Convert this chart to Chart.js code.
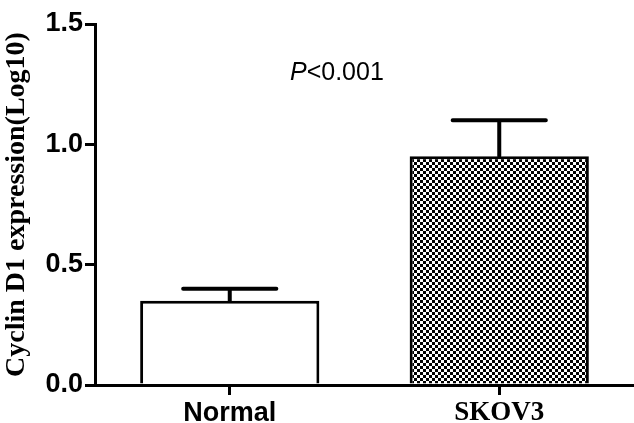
<!DOCTYPE html>
<html>
<head>
<meta charset="utf-8">
<script src="https://cdn.jsdelivr.net/npm/chart.js@4"></script>
<style>
  html, body { margin: 0; padding: 0; background: #fff; }
  #wrap { width: 634px; height: 423px; }
</style>
</head>
<body>
<div id="wrap"><canvas id="grafico"></canvas></div>
<script>
// dados
var grupos = ['Normal', 'SKOV3'];
var medias = [0.35, 0.95];
var erros = [0.05, 0.15];
var ticksY = [0, 0.5, 1.0, 1.5];

function padraoXadrez() {
    var c = document.createElement('canvas');
    c.width = 6;
    c.height = 6;
    var g = c.getContext('2d');
    g.fillStyle = '#fff';
    g.fillRect(0, 0, 6, 6);
    g.fillStyle = '#000';
    g.fillRect(0, 0, 3, 3);
    g.fillRect(3, 3, 3, 3);
    return g.createPattern(c, 'repeat');
}

var barrasErro = {
    id: 'barrasErro',
    afterDatasetsDraw: function (chart) {
        var ctx = chart.ctx;
        var meta = chart.getDatasetMeta(0);
        var y = chart.scales.y;
        ctx.save();
        ctx.strokeStyle = '#000';
        ctx.lineWidth = 4;
        ctx.lineCap = 'round';
        meta.data.forEach(function (bar, i) {
            var topo = y.getPixelForValue(medias[i] + erros[i]);
            var meia = bar.width * 0.26;
            ctx.beginPath();
            ctx.moveTo(bar.x, bar.y);
            ctx.lineTo(bar.x, topo);
            ctx.moveTo(bar.x - meia, topo);
            ctx.lineTo(bar.x + meia, topo);
            ctx.stroke();
        });
        // texto do valor P
        ctx.fillStyle = '#000';
        ctx.textBaseline = 'alphabetic';
        ctx.font = 'italic 25px "Liberation Sans", Arial, sans-serif';
        var wP = ctx.measureText('P').width;
        var x0 = 290;
        ctx.fillText('P', x0, 80);
        ctx.font = '25px "Liberation Sans", Arial, sans-serif';
        ctx.fillText('<0.001', x0 + wP, 80);
        ctx.restore();
    }
};

var ctx = document.getElementById('grafico');
new Chart(ctx, {
    type: 'bar',
    data: {
        labels: grupos,
        datasets: [{
            label: 'Cyclin D1',
            data: medias,
            backgroundColor: ['#fff', padraoXadrez()],
            borderColor: '#000',
            borderWidth: 3,
            barPercentage: 1,
            categoryPercentage: 0.665
        }]
    },
    options: {
        responsive: true,
        maintainAspectRatio: false,
        animation: false,
        layout: { padding: { top: 24, right: 0, left: 0, bottom: 0 } },
        plugins: {
            legend: { display: false },
            tooltip: { enabled: false }
        },
        scales: {
            x: {
                grid: {
                    offset: false,
                    drawOnChartArea: false,
                    color: '#000',
                    lineWidth: 3,
                    tickLength: 10
                },
                border: { color: '#000', width: 3 },
                ticks: {
                    color: '#000',
                    padding: 2,
                    font: function (c) {
                        if (c.index === 1) {
                            return { family: '"Liberation Serif", "Times New Roman", serif', size: 27, weight: 'bold' };
                        }
                        return { family: '"Liberation Sans", Arial, sans-serif', size: 27, weight: 'bold' };
                    }
                },
                afterFit: function (s) { s.height = 38; }
            },
            y: {
                min: 0,
                max: 1.5,
                afterBuildTicks: function (s) {
                    s.ticks = ticksY.map(function (v) { return { value: v }; });
                },
                grid: {
                    drawOnChartArea: false,
                    color: '#000',
                    lineWidth: 3,
                    tickLength: 10
                },
                border: { color: '#000', width: 3 },
                ticks: {
                    color: '#000',
                    padding: 2,
                    callback: function (v) { return Number(v).toFixed(1); },
                    font: { family: '"Liberation Sans", Arial, sans-serif', size: 27, weight: 'bold' }
                },
                title: {
                    display: true,
                    text: 'Cyclin D1 expression(Log10)',
                    color: '#000',
                    padding: 0,
                    font: { family: '"Liberation Serif", "Times New Roman", serif', size: 28, weight: 'bold' }
                },
                afterFit: function (s) { s.width = 95; }
            }
        }
    },
    plugins: [barrasErro]
});
</script>
</body>
</html>
